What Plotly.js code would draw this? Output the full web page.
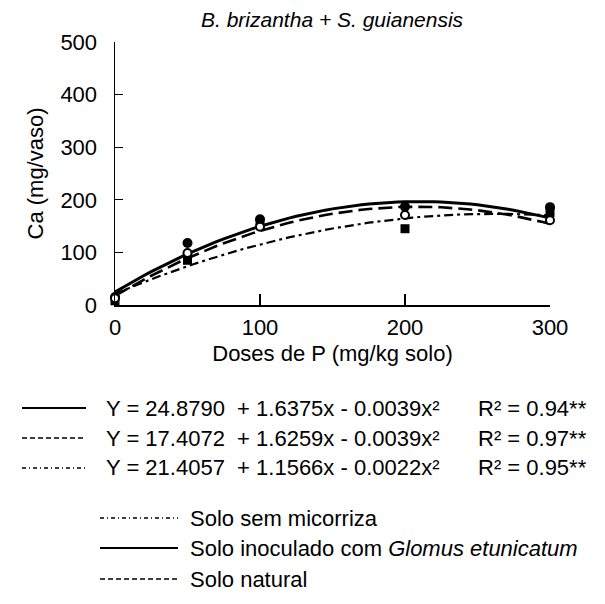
<!DOCTYPE html>
<html><head><meta charset="utf-8">
<script src="https://cdn.plot.ly/plotly-3.0.1.min.js"></script>
<style>html,body{margin:0;padding:0;background:#fff}#c{width:605px;height:604px}</style>
</head><body><div id="c"></div>
<script>
// Observed doses (mg/kg solo)
const doses = [0, 50, 100, 200, 300];
const caGlomus = [15, 118, 163, 187, 186];     // filled circles
const caNatural = [13, 99, 149, 171, 161];     // open circles
const caSemMic = [8, 85, 156, 145, 176];       // filled squares
// Printed regression coefficients [a, b, c] : Y = a + b x + c x^2
const coefGlomus = [24.8790, 1.6375, -0.0039];
const coefNatural = [17.4072, 1.6259, -0.0039];
const coefSemMic = [21.4057, 1.1566, -0.0022];
const r2Labels = ["R² = 0.94**", "R² = 0.97**", "R² = 0.95**"];
const eqLabels = [
  "Y = 24.8790  + 1.6375x - 0.0039x²",
  "Y = 17.4072  + 1.6259x - 0.0039x²",
  "Y = 21.4057  + 1.1566x - 0.0022x²"
];
const legendLabels = ["Solo sem micorriza", "Solo inoculado com <i>Glomus etunicatum</i>", "Solo natural"];
const xTicks = [0, 100, 200, 300];
const yTicks = [0, 100, 200, 300, 400, 500];

const xs = [];
for (let x = 0; x <= 300; x += 5) xs.push(x);
const fit = c => xs.map(x => c[0] + c[1]*x + c[2]*x*x);

const FONT = "Liberation Sans, Arial, Helvetica, sans-serif";
const traces = [
  {x: xs, y: fit(coefSemMic), mode: 'lines', line: {color: '#000', width: 2.2, dash: '9px,4px,3px,4px'}, hoverinfo: 'skip'},
  {x: xs, y: fit(coefNatural), mode: 'lines', line: {color: '#000', width: 2.6, dash: '14px,6px'}, hoverinfo: 'skip'},
  {x: xs, y: fit(coefGlomus), mode: 'lines', line: {color: '#000', width: 3}, hoverinfo: 'skip'},
  {x: doses, y: caSemMic, mode: 'markers', marker: {symbol: 'square', size: 9, color: '#000'}, cliponaxis: false},
  {x: doses, y: caGlomus, mode: 'markers', marker: {symbol: 'circle', size: 10, color: '#000'}, cliponaxis: false},
  {x: doses, y: caNatural, mode: 'markers', marker: {symbol: 'circle', size: 8, color: '#fff', line: {color: '#000', width: 2}}, cliponaxis: false}
];

// pixel -> paper helpers
const L = 115, R = 550, T = 42, B = 305;
const px = p => (p - L) / (R - L);
const py = p => (B - p) / (B - T);

const shapes = [];
const annotations = [];
const eqDash = ['solid', '5px,3px', '4px,3px,1px,3px'];
const eqY = [408, 438, 468];
for (let i = 0; i < 3; i++) {
  shapes.push({type: 'line', xref: 'paper', yref: 'paper', x0: px(22), x1: px(86), y0: py(eqY[i]), y1: py(eqY[i]),
    line: {color: '#000', width: i === 0 ? 2 : 1.3, dash: eqDash[i]}});
  annotations.push({xref: 'paper', yref: 'paper', x: px(104), y: py(eqY[i]), xanchor: 'left', yanchor: 'middle',
    text: eqLabels[i], showarrow: false, font: {family: FONT, size: 22, color: '#000'}});
  annotations.push({xref: 'paper', yref: 'paper', x: px(476), y: py(eqY[i]), xanchor: 'left', yanchor: 'middle',
    text: r2Labels[i], showarrow: false, font: {family: FONT, size: 22, color: '#000'}});
}
const lgDash = ['4px,3px,1px,3px', 'solid', '5px,3px'];
const lgY = [518, 548, 579];
for (let i = 0; i < 3; i++) {
  shapes.push({type: 'line', xref: 'paper', yref: 'paper', x0: px(100), x1: px(178), y0: py(lgY[i]), y1: py(lgY[i]),
    line: {color: '#000', width: i === 1 ? 2 : 1.3, dash: lgDash[i]}});
  annotations.push({xref: 'paper', yref: 'paper', x: px(188), y: py(lgY[i]), xanchor: 'left', yanchor: 'middle',
    text: legendLabels[i], showarrow: false, font: {family: FONT, size: 22, color: '#000'}});
}
annotations.push({xref: 'paper', yref: 'paper', x: px(332), y: py(19), xanchor: 'center', yanchor: 'middle',
  text: '<i>B. brizantha + S. guianensis</i>', showarrow: false, font: {family: FONT, size: 21, color: '#000'}});

const layout = {
  width: 605, height: 604,
  margin: {l: L, r: 605 - R, t: T, b: 604 - B},
  paper_bgcolor: '#fff', plot_bgcolor: '#fff',
  showlegend: false,
  font: {family: FONT, size: 22, color: '#000'},
  xaxis: {range: [0, 300], tickvals: xTicks, ticks: 'inside', ticklen: 11, tickwidth: 1.3, tickcolor: '#000',
    showline: true, linecolor: '#000', linewidth: 1.5, showgrid: false, zeroline: false,
    tickfont: {family: FONT, size: 22}, ticklabelstandoff: 2,
    title: {text: 'Doses de P (mg/kg solo)', font: {family: FONT, size: 22}, standoff: 6}},
  yaxis: {range: [0, 500], tickvals: yTicks, ticks: 'inside', ticklen: 8, tickwidth: 1.3, tickcolor: '#000',
    showline: true, linecolor: '#000', linewidth: 1.5, showgrid: false, zeroline: false,
    tickfont: {family: FONT, size: 22}, ticklabelstandoff: 12,
    title: {text: 'Ca (mg/vaso)', font: {family: FONT, size: 22}, standoff: 10}},
  shapes: shapes,
  annotations: annotations
};
Plotly.newPlot('c', traces, layout, {staticPlot: true});
</script></body></html>
